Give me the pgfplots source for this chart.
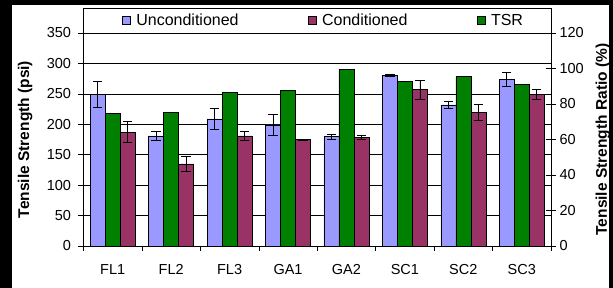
\documentclass[border=0pt]{standalone}
\usepackage{fontspec}
\setmainfont{Liberation Sans}
\usepackage{pgfplots}
\pgfplotsset{compat=1.18}
\usepackage{pgfplotstable}
\definecolor{uncol}{HTML}{9999FF}
\definecolor{concol}{HTML}{993366}
\definecolor{tsrcol}{HTML}{008000}

\pgfplotstableread{
x cat unc uncerr con conerr tsr
0 FL1 249 21 187 17 74.8
1 FL2 181 8  135 12 75.3
2 FL3 209 17 181 7  86.6
3 GA1 199 18 175 1  87.5
4 GA2 180 4  178 3  99.5
5 SC1 280 2  257 16 92.6
6 SC2 232 5  220 13 95.4
7 SC3 274 12 249 8  90.9
}\datatable

\pgfplotsset{
  common/.style={
    at={(0pt,0pt)}, anchor=south west,
    scale only axis, width=467.5pt, height=213pt,
    xmin=-0.5, xmax=7.5,
    /pgf/number format/assume math mode=true,
    every tick label/.append style={font=\fontsize{14.5}{16}\selectfont},
    label style={font=\bfseries\fontsize{15.5}{17}\selectfont},
    axis line style={black, line width=0.6pt},
  },
  errs/.style={error bars/.cd, y dir=both, y explicit,
    error bar style={black, line width=0.7pt},
    error mark options={rotate=90, mark size=4.7pt, black, line width=0.7pt}},
}

\begin{document}
\begin{tikzpicture}
\fill[black] (-83.5pt,-42pt) rectangle (529.5pt,246pt);
\path[use as bounding box] (-83.5pt,-42pt) rectangle (529.5pt,246pt);
\fill[white] (-71pt,-42pt) rectangle (525.5pt,241pt);

\begin{axis}[common,
  ymin=0, ymax=350, ytick={0,50,...,350},
  xtick={0,...,7}, xticklabels={FL1,FL2,FL3,GA1,GA2,SC1,SC2,SC3},
  major x tick style={draw=none},
  minor xtick={-0.5,0.5,...,7.5},
  minor x tick style={black, line width=0.6pt},
  minor tick length=5pt, major tick length=5pt,
  tick align=outside, tick pos=left,
  y tick style={black, line width=0.6pt},
  xticklabel style={yshift=-10pt},
  yticklabel style={xshift=-4pt},
  ymajorgrids, major grid style={black, line width=0.5pt},
  ylabel={Tensile Strength (psi)},
  ylabel style={at={(axis description cs:-0.125,0.5)}, anchor=center},
  legend columns=3,
  legend style={draw=none, fill=none, inner sep=0pt, at={(axis description cs:0.0824,1.0587)}, anchor=west,
    font=\fontsize{16}{18}\selectfont,
    nodes={inner sep=0pt},
    /tikz/every odd column/.append style={column sep=6pt},
    /tikz/every even column/.append style={column sep=69.4pt}},
  legend image code/.code={\draw[#1,draw=black,line width=0.5pt] (0pt,-3.8pt) rectangle (7.6pt,3.8pt);},
]
\addplot[ybar, bar width=15pt, bar shift=0pt, fill=uncol, draw=black, line width=0.5pt, errs]
  table[x expr=\thisrow{x}-0.2567, y=unc, y error=uncerr]{\datatable};
\addlegendentry{Unconditioned}
\addplot[ybar, bar width=15pt, bar shift=0pt, fill=concol, draw=black, line width=0.5pt, errs]
  table[x expr=\thisrow{x}+0.2567, y=con, y error=conerr]{\datatable};
\addlegendentry{Conditioned}
\addlegendimage{fill=tsrcol}
\addlegendentry{TSR}
\end{axis}

\begin{axis}[common,
  ymin=0, ymax=120, ytick={0,20,...,120},
  axis y line*=right, axis x line=none,
  tick align=center, major tick length=10pt,
  y tick style={black, line width=0.6pt},
  ylabel={Tensile Strength Ratio (\%)},
  ylabel style={at={(axis description cs:1.1112,0.5)}, anchor=center},
]
\addplot[ybar, bar width=15pt, bar shift=0pt, fill=tsrcol, draw=black, line width=0.5pt]
  table[x=x, y=tsr]{\datatable};
\end{axis}

\draw[black, line width=0.6pt] (0pt,213pt) rectangle (467.5pt,238pt);
\end{tikzpicture}
\end{document}
